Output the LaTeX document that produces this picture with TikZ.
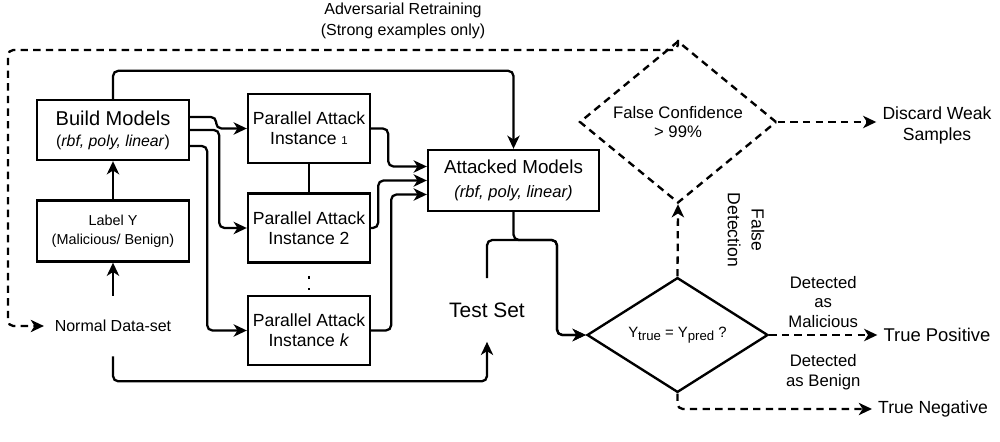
\documentclass[tikz,border=0pt]{standalone}
\usepackage{fontspec}
\setmainfont{Liberation Sans}
\usetikzlibrary{positioning,shapes.geometric,arrows.meta,calc}

\tikzset{
	box/.style={draw, line width=1.35pt, align=center, inner sep=0pt},
	attack/.style={box, minimum width=2.44cm, minimum height=1.38cm, font=\fontsize{10}{11.3}\selectfont},
	flow/.style={line width=1.3pt, rounded corners=3pt, -{Stealth[length=7.5pt,width=7pt,inset=2.2pt]}},
	dflow/.style={flow, dash pattern=on 4.2pt off 3pt},
}

\begin{document}
\begin{tikzpicture}[x=0.02cm, y=-0.02cm]
	\useasboundingbox (0,0) rectangle (1000,442);

	\node[box, minimum width=3.04cm, minimum height=1.2cm, font=\fontsize{11.4}{11.9}\selectfont] (build) at (113,130) {Build Models\\{\fontsize{9}{11.9}\selectfont(\textit{rbf, poly, linear})}};
	\node[box, minimum width=3.04cm, minimum height=1.22cm, font=\fontsize{8.2}{11}\selectfont] (label) at (113,231) {Label Y\\(Malicious/ Benign)};
	\node[align=center, minimum height=1.2cm, inner xsep=6pt, inner ysep=0pt, font=\fontsize{9.1}{11}\selectfont] (data) at (113,326) {Normal Data-set};

	\node[attack] (pa1) at (309,128.5) {Parallel Attack\\Instance {\fontsize{6.5}{8}\selectfont 1}};
	\node[attack] (pa2) at (309,228) {Parallel Attack\\Instance 2};
	\node[attack] (pak) at (309,330.5) {Parallel Attack\\Instance \textit{k}};

	\node[box, minimum width=3.42cm, minimum height=1.22cm, font=\fontsize{10.7}{13.5}\selectfont] (attacked) at (513.5,180.5) {Attacked Models\\{\fontsize{9.4}{13.5}\selectfont\textit{(rbf, poly, linear)}}};
	\node[minimum height=1.26cm, inner sep=0pt, font=\fontsize{11.9}{14}\selectfont] (test) at (487,310) {Test Set};

	\node[box, diamond, minimum width=3.62cm, minimum height=2.2cm, font=\fontsize{8.5}{10}\selectfont] (check) at (677.5,335) {Y\raisebox{-0.4ex}{\fontsize{7.5}{9}\selectfont true} = Y\raisebox{-0.4ex}{\fontsize{7.5}{9}\selectfont pred} ?};
	\node[box, diamond, dash pattern=on 4.2pt off 3pt, minimum width=3.94cm, minimum height=2.64cm, font=\fontsize{9.5}{11.3}\selectfont] (conf) at (678,122) {False Confidence\\> 99\%};

	\node[align=center, font=\fontsize{10}{12}\selectfont] (discard) at (937,125) {Discard Weak\\Samples};
	\node[font=\fontsize{10.5}{12}\selectfont] (tpos) at (937,335) {True Positive};
	\node[font=\fontsize{10}{12}\selectfont] (tneg) at (933,409) {True Negative};

	\node[align=center, font=\fontsize{9.1}{11.8}\selectfont] (retrain) at (403,21) {Adversarial Retraining\\(Strong examples only)};
	\node[align=center, rotate=-90, font=\fontsize{10}{13.5}\selectfont] (falsedet) at (746,230) {False\\Detection};

	\draw[flow] (label) -- (build);
	\draw[flow] (data) -- (label);
	\draw[flow] (build.north) -- ++(0,-28) -| (attacked.north);

	\draw[flow] (build.east) ++(0,-13) -- ++(26,0) |- (pa1.west);
	\draw[flow] (build.east) -- ++(29,0) |- (pa2.west);
	\draw[flow] (build.east) ++(0,16) -- ++(17,0) |- (pak.west);

	\draw[line width=1.3pt] (pa1) -- (pa2);
	\draw[line width=1.3pt, dash pattern=on 1.6pt off 5.5pt, shorten <=7pt, shorten >=3pt] (pa2) -- (pak);

	\draw[flow] (pa1.east) -- ++(17,0) |- ($(attacked.west)+(0,-14)$);
	\draw[flow] (pa2.east) -- ++(7,0) |- (attacked.west);
	\draw[flow] (pak.east) -- ++(20,0) |- ($(attacked.west)+(0,14)$);

	\coordinate (join) at (557,240);
	\draw[flow] (attacked.south) |- (join) |- (check.west);
	\draw[flow] (test.north) |- (join) |- (check.west);
	\draw[flow] (data.south) -- ++(0,25) -| (test.south);

	\draw[dflow] (check.north) -- (conf.south);
	\draw[dflow] (conf.east) -- (conf.east -| discard.west);
	\draw[dflow] (check.east) -- (tpos.west)
		node[midway, above, align=center, font=\fontsize{9.5}{11.3}\selectfont] (malic) {Detected\\as\\Malicious}
		node[midway, below=7pt, align=center, font=\fontsize{9.5}{11.3}\selectfont] (benign) {Detected\\as Benign};
	\draw[dflow] (check.south) |- (tneg.west);

	\coordinate (corner) at (8,50);
	\draw[dflow] (conf.north) |- (corner) |- (data.west);
\end{tikzpicture}
\end{document}
